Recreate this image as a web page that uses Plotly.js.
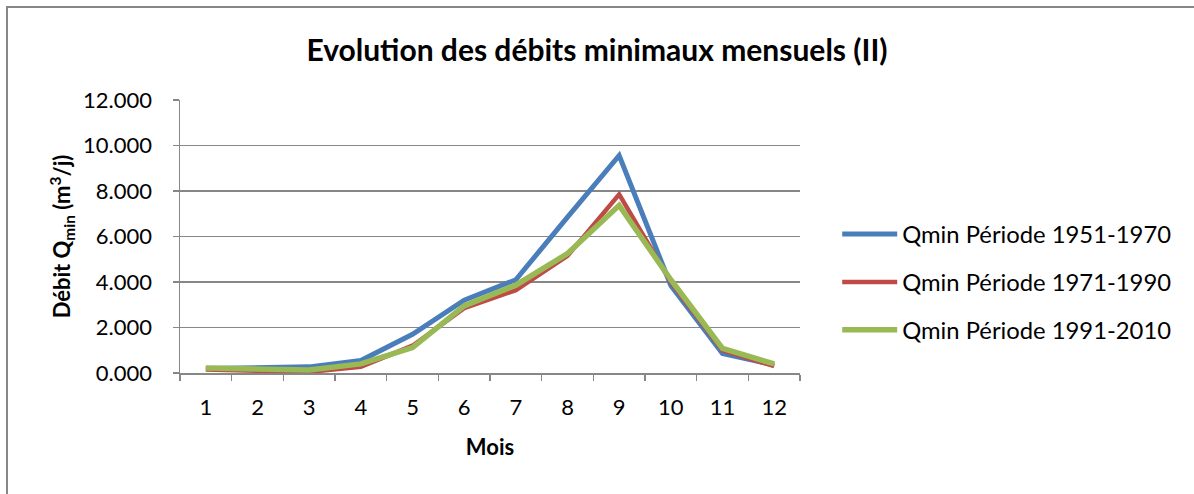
<!DOCTYPE html>
<html><head><meta charset="utf-8">
<script src="https://cdn.plot.ly/plotly-3.0.1.min.js"></script>
<style>html,body{margin:0;padding:0;background:#fff}#chart{width:1194px;height:494px}</style>
</head><body><div id="chart"></div>
<script>
const months = ['1','2','3','4','5','6','7','8','9','10','11','12'];
const q1951_1970 = [0.20, 0.22, 0.27, 0.55, 1.70, 3.20, 4.10, 6.85, 9.56, 3.85, 0.86, 0.35];
const q1971_1990 = [0.15, 0.10, 0.05, 0.27, 1.20, 2.85, 3.64, 5.15, 7.85, 4.00, 1.00, 0.30];
const q1991_2010 = [0.22, 0.15, 0.13, 0.40, 1.12, 2.95, 3.86, 5.25, 7.37, 4.10, 1.08, 0.40];
const seriesNames = ['Qmin Période 1951-1970', 'Qmin Période 1971-1990', 'Qmin Période 1991-2010'];
const yTicks = [0, 2, 4, 6, 8, 10, 12];

const FONT = 'Lato, "Open Sans", sans-serif';
const grid = '#878787';
const colors = ['#4a7ebb', '#be4b48', '#98b954'];
const widths = [5, 4.5, 5.5];
const data = [q1951_1970, q1971_1990, q1991_2010].map((y, i) => ({
  x: months, y: y, type: 'scatter', mode: 'lines', name: seriesNames[i],
  legendgroup: 'g' + i,
  line: {color: colors[i], width: widths[i]}
}));

const layout = {
  width: 1194, height: 494,
  margin: {l: 180, r: 394, t: 100, b: 121},
  paper_bgcolor: '#fff', plot_bgcolor: '#fff',
  font: {family: FONT, color: '#000', size: 22},
  title: {text: '<b>Evolution des débits minimaux mensuels (II)</b>', font: {size: 30, family: FONT},
          x: 0.5, xref: 'container', xanchor: 'center', y: 1 - 50/494, yref: 'container', yanchor: 'middle'},
  xaxis: {
    type: 'category', range: [-0.5, 11.5], tickson: 'boundaries', ticks: 'outside', ticklen: 6, tickcolor: grid, tickwidth: 1.5,
    showline: true, linecolor: grid, linewidth: 1.5, showgrid: false, zeroline: false,
    ticklabelstandoff: 14,
    tickfont: {size: 22, family: FONT},
    title: {text: '<b>Mois</b>', font: {size: 22, family: FONT}, standoff: 20}
  },
  yaxis: {
    range: [0, 12], tickvals: yTicks, tickformat: '.3f',
    ticks: 'outside', ticklen: 6, tickcolor: grid, tickwidth: 1.5,
    showline: true, linecolor: grid, linewidth: 1.5,
    showgrid: true, gridcolor: grid, gridwidth: 1.5, zeroline: false,
    ticklabelstandoff: 16,
    tickfont: {size: 22, family: FONT},
    title: {text: '<b>Débit Q<sub>min</sub> (m<sup>3</sup>/j)</b>', font: {size: 22, family: FONT}, standoff: 6}
  },
  showlegend: true,
  legend: {x: 1.06, xanchor: 'left', y: (373-282)/273, yanchor: 'middle', traceorder: 'grouped', tracegroupgap: 14,
           itemwidth: 55, font: {size: 23.8, family: FONT}, bgcolor: 'rgba(0,0,0,0)'},
  shapes: [{type: 'rect', xref: 'paper', yref: 'paper', x0: (7-180)/620, x1: 2, y0: -1, y1: (373-7)/273,
            line: {color: grid, width: 2}, fillcolor: 'rgba(0,0,0,0)', layer: 'below'}]
};
Plotly.newPlot('chart', data, layout, {displayModeBar: false, staticPlot: true});
</script></body></html>
